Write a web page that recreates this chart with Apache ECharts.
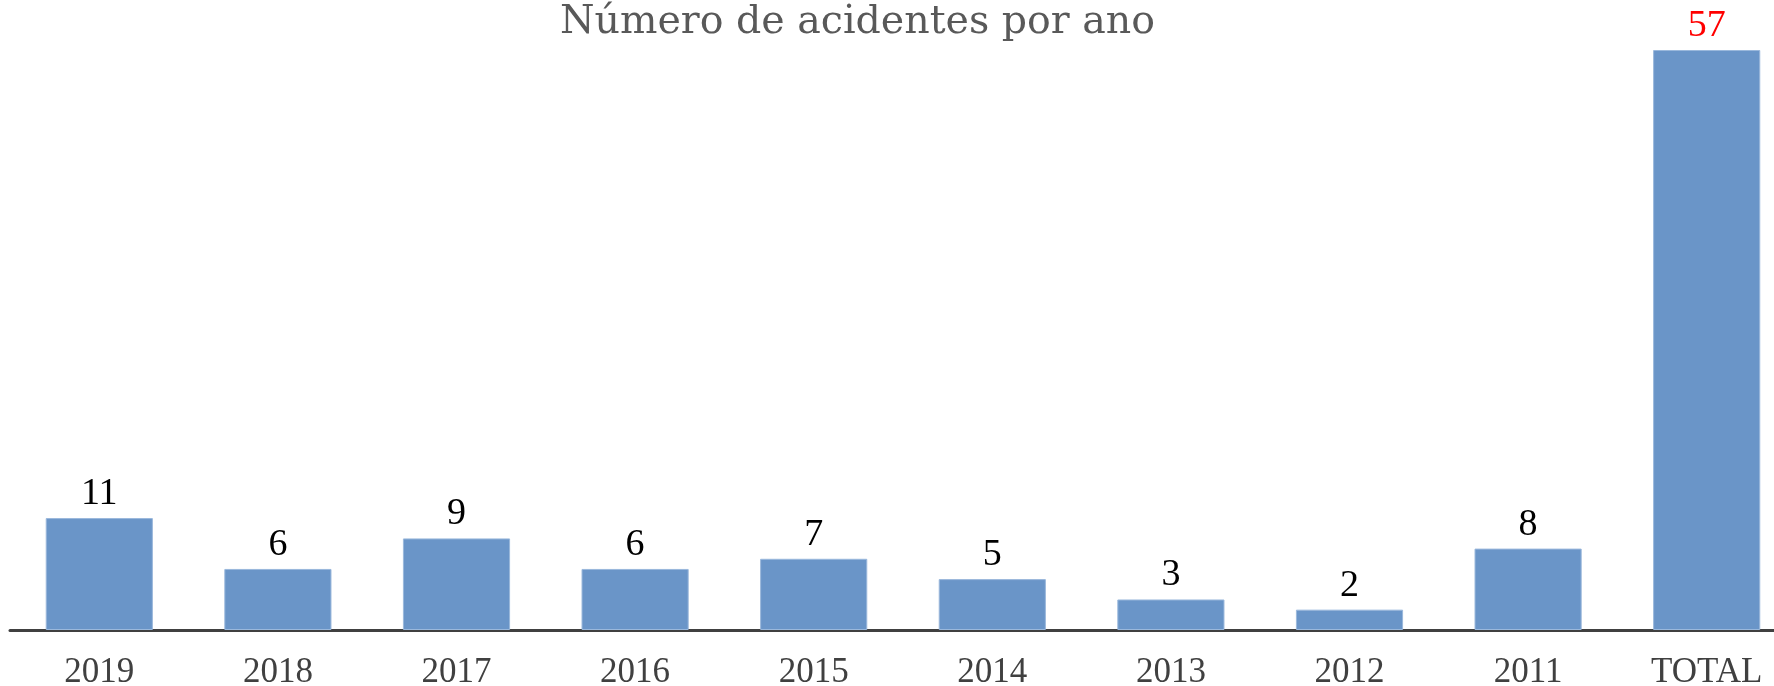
<!DOCTYPE html>
<html>
<head>
<meta charset="utf-8">
<title>Número de acidentes por ano</title>
<script src="https://cdn.jsdelivr.net/npm/echarts@6/dist/echarts.min.js"></script>
<style>
  html, body { margin: 0; padding: 0; background: #fff; }
  #chart { width: 1774px; height: 686px; }
</style>
</head>
<body>
<div id="chart"></div>
<script>
  // categorias (anos + total)
  var anos = ['2019', '2018', '2017', '2016', '2015', '2014', '2013', '2012', '2011', 'TOTAL'];
  // número de acidentes por ano
  var acidentes = [11, 6, 9, 6, 7, 5, 3, 2, 8, 57];

  var fonte = '"Liberation Serif", "DejaVu Serif", serif';

  var chart = echarts.init(document.getElementById('chart'));

  // o total fica com o rótulo em vermelho
  var dados = acidentes.map(function (v, i) {
    var item = { value: v };
    if (anos[i] === 'TOTAL') {
      item.label = { color: '#ff0000' };
    }
    return item;
  });

  var option = {
    animation: false,
    title: {
      text: 'Número de acidentes por ano',
      left: 555,
      top: -2,
      textStyle: {
        fontFamily: '"DejaVu Serif", serif',
        fontSize: 39.5,
        fontWeight: 'normal',
        color: '#595959'
      }
    },
    // a última coluna fica cortada à direita, como no original
    grid: {
      left: 10,
      right: -22,
      top: 50,
      bottom: 56,
      containLabel: false,
      outerBoundsMode: 'none'
    },
    xAxis: {
      type: 'category',
      data: anos,
      axisLine: { lineStyle: { color: '#404040', width: 3 } },
      axisTick: { show: false },
      axisLabel: {
        margin: 25,
        interval: 0,
        fontFamily: fonte,
        fontSize: 35,
        color: '#404040'
      }
    },
    yAxis: {
      type: 'value',
      min: 0,
      max: 57,
      show: false,
      splitLine: { show: false }
    },
    series: [{
      type: 'bar',
      data: dados,
      barWidth: '60%',
      itemStyle: {
        color: '#6a95c8',
        borderColor: '#9ab8dc',
        borderWidth: 1
      },
      label: {
        show: true,
        position: 'top',
        distance: 5,
        fontFamily: fonte,
        fontSize: 38,
        color: '#000'
      }
    }]
  };

  chart.setOption(option);
</script>
</body>
</html>
